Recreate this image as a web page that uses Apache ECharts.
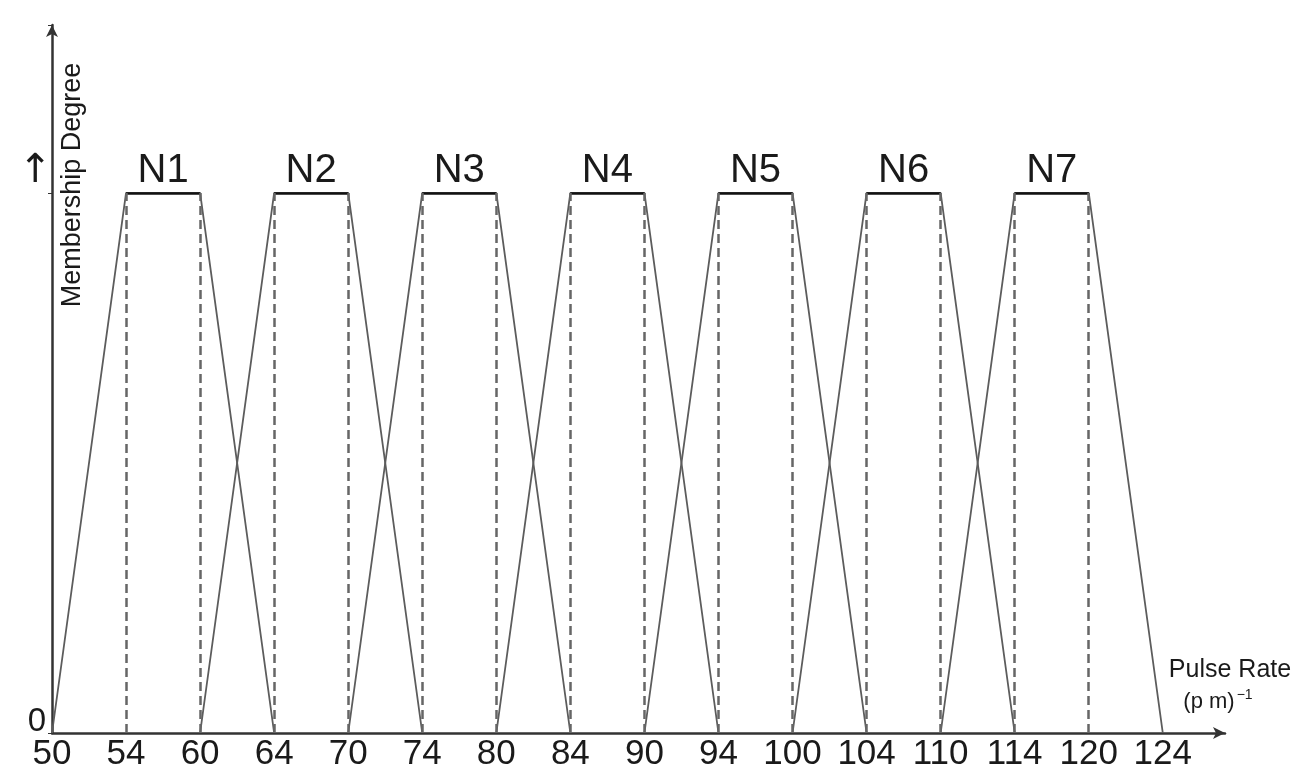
<!DOCTYPE html>
<html>
<head>
<meta charset="utf-8">
<script src="https://cdn.jsdelivr.net/npm/echarts@6/dist/echarts.min.js"></script>
<style>
  html, body { margin: 0; padding: 0; background: #fff; }
  #chart { width: 1302px; height: 777px; }
</style>
</head>
<body>
<div id="chart"></div>
<script>
// tick labels of the pulse rate axis (drawn evenly spaced, as in the figure)
var ticks = [50, 54, 60, 64, 70, 74, 80, 84, 90, 94, 100, 104, 110, 114, 120, 124];
// fuzzy sets and their trapezoid corners
var setNames = ['N1', 'N2', 'N3', 'N4', 'N5', 'N6', 'N7'];
var footLeft = [50, 60, 70, 80, 90, 100, 110];
var peakLeft = [54, 64, 74, 84, 94, 104, 114];
var peakRight = [60, 70, 80, 90, 100, 110, 120];
var footRight = [64, 74, 84, 94, 104, 114, 124];
var degree = [0, 1, 1, 0];

var FONT = "'Liberation Sans', Arial, sans-serif";

function pos(v) {
    return ticks.indexOf(v);
}

var chart = echarts.init(document.getElementById('chart'));

var series = [];
for (var i = 0; i < setNames.length; i++) {
    var corners = [footLeft[i], peakLeft[i], peakRight[i], footRight[i]];
    var pts = [];
    for (var k = 0; k < corners.length; k++) {
        pts.push([pos(corners[k]), degree[k]]);
    }
    var dash = {type: [9, 5], color: '#666', width: 2.5};
    series.push({
        name: setNames[i],
        type: 'line',
        data: pts,
        symbol: 'none',
        lineStyle: {color: '#5c5c5c', width: 1.8},
        markLine: {
            silent: true,
            symbol: ['none', 'none'],
            label: {show: false},
            data: [
                //顶部平台 + 名称
                [{
                    coord: [pos(peakLeft[i]), 1], name: setNames[i],
                    lineStyle: {color: '#111', width: 2.5, type: 'solid'},
                    label: {
                        show: true, position: 'insideMiddleTop', formatter: '{b}',
                        fontSize: 40, fontFamily: FONT, color: '#1a1a1a', distance: 2
                    }
                }, {coord: [pos(peakRight[i]), 1]}],
                //虚线
                [{coord: [pos(peakLeft[i]), 0], lineStyle: dash}, {coord: [pos(peakLeft[i]), 1]}],
                [{coord: [pos(peakRight[i]), 0], lineStyle: dash}, {coord: [pos(peakRight[i]), 1]}]
            ]
        }
    });
}

var option = {
    backgroundColor: '#fff',
    animation: false,
    grid: {left: 52, right: 77, top: 25, bottom: 44},
    xAxis: {
        type: 'value',
        min: 0,
        max: 15.84,
        interval: 1,
        splitLine: {show: false},
        axisTick: {show: false},
        axisLine: {
            lineStyle: {color: '#333', width: 2.5},
            symbol: ['none', 'arrow'],
            symbolSize: [9, 12]
        },
        axisLabel: {
            fontSize: 35,
            fontFamily: FONT,
            color: '#1a1a1a',
            margin: 4,
            showMaxLabel: false,
            formatter: function (v) {
                return (Number.isInteger(v) && ticks[v] !== undefined) ? String(ticks[v]) : '';
            }
        }
    },
    yAxis: {
        type: 'value',
        min: 0,
        max: 1.311,
        interval: 1,
        splitLine: {show: false},
        axisTick: {show: true, length: 4, lineStyle: {color: '#333'}},
        axisLine: {
            lineStyle: {color: '#333', width: 2.5},
            symbol: ['none', 'arrow'],
            symbolSize: [9, 12]
        },
        axisLabel: {
            fontFamily: FONT,
            color: '#1a1a1a',
            margin: 0,
            formatter: function (v) {
                if (v === 0) return '{z|0}';
                if (v === 1) return '{a|↑}';
                return '';
            },
            rich: {
                z: {fontSize: 33, fontFamily: FONT, color: '#1a1a1a', padding: [0, 6, 22, 0]},
                a: {fontSize: 40, fontFamily: 'DejaVu Sans', color: '#1a1a1a', padding: [0, 0, 42, 0]}
            }
        }
    },
    graphic: [
        {
            type: 'text',
            x: 73, y: 185,
            rotation: Math.PI / 2,
            style: {
                text: 'Membership Degree',
                fontSize: 27, fontFamily: FONT, fill: '#1a1a1a',
                align: 'center', verticalAlign: 'middle'
            }
        },
        {
            type: 'text',
            x: 1230, y: 670,
            style: {
                text: 'Pulse Rate',
                fontSize: 25, fontFamily: FONT, fill: '#1a1a1a',
                align: 'center', verticalAlign: 'middle'
            }
        },
        {
            type: 'text',
            x: 1218, y: 702,
            style: {
                text: '{t|(p m)}{s|−1}',
                align: 'center', verticalAlign: 'middle',
                rich: {
                    t: {fontSize: 22, fontFamily: FONT, fill: '#1a1a1a'},
                    s: {fontSize: 14, fontFamily: FONT, fill: '#1a1a1a', padding: [0, 0, 14, 2]}
                }
            }
        }
    ],
    series: series
};

chart.setOption(option);
</script>
</body>
</html>
